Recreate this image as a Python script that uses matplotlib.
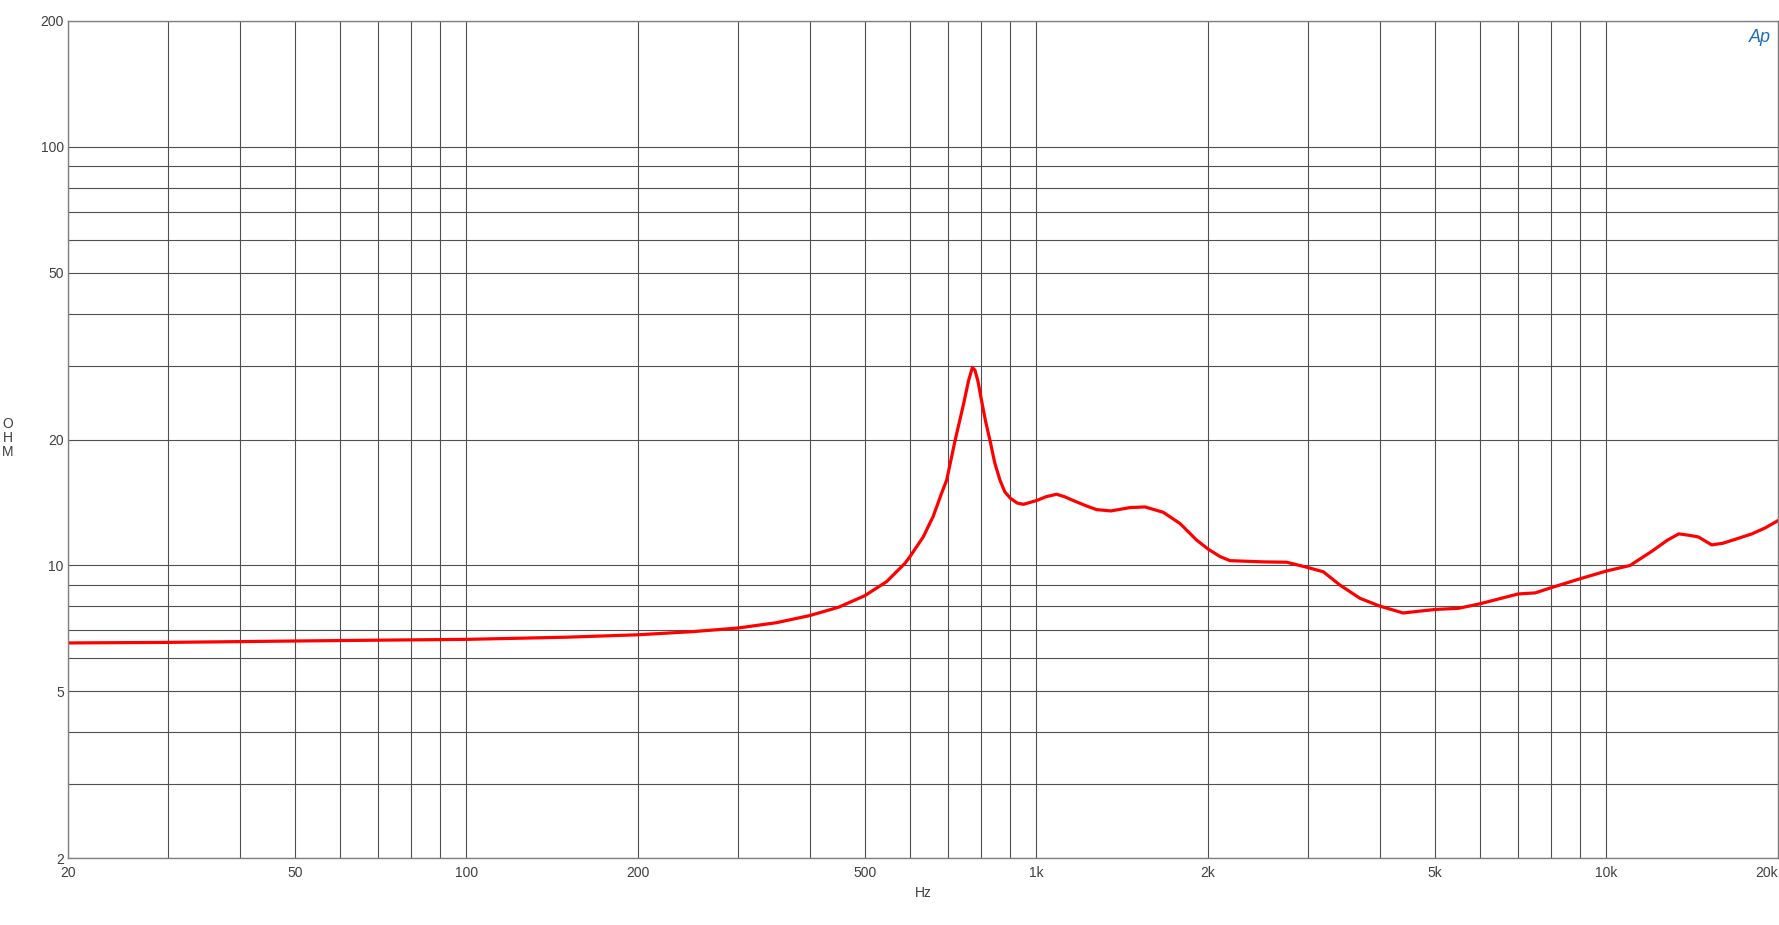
import matplotlib
matplotlib.use('Agg')
from matplotlib import pyplot as plt
from matplotlib.ticker import FixedLocator, FuncFormatter, NullFormatter
import numpy as np

# impedance curve
freq = [20, 30, 50, 70, 100, 150, 200, 250, 300, 350, 400, 450, 500, 546, 588,
        600, 633, 659, 682, 696, 720, 745, 760, 772, 780, 790, 801, 815, 829,
        845, 863, 880, 899, 925, 949, 975, 1001, 1040, 1085, 1120, 1160, 1220,
        1275, 1350, 1459, 1551, 1669, 1786, 1910, 2000, 2100, 2186, 2500, 2749,
        3000, 3186, 3408, 3694, 4000, 4400, 5000, 5500, 6000, 7000, 7500, 8000,
        9000, 10000, 11000, 12000, 12800, 13400, 14000, 14500, 15300, 16000,
        17000, 18000, 19000, 20000]
ohm = [6.53, 6.55, 6.60, 6.63, 6.66, 6.74, 6.83, 6.95, 7.09, 7.30, 7.59, 7.95,
       8.47, 9.15, 10.12, 10.5, 11.7, 13.1, 14.9, 16.0, 19.9, 24.3, 27.6, 29.7,
       29.3, 27.5, 24.8, 22.0, 19.9, 17.6, 16.0, 15.0, 14.5, 14.1, 14.0, 14.15,
       14.3, 14.6, 14.8, 14.6, 14.3, 13.9, 13.6, 13.5, 13.75, 13.8, 13.4, 12.6,
       11.5, 10.95, 10.5, 10.27, 10.2, 10.18, 9.88, 9.66, 8.98, 8.35, 8.0, 7.7,
       7.85, 7.9, 8.1, 8.55, 8.6, 8.85, 9.3, 9.7, 10.0, 10.8, 11.5, 11.9, 11.8,
       11.7, 11.2, 11.3, 11.6, 11.9, 12.3, 12.8]

x_major = [20, 50, 100, 200, 500, 1000, 2000, 5000, 10000, 20000]
x_labels = ['20', '50', '100', '200', '500', '1k', '2k', '5k', '10k', '20k']
y_major = [2, 5, 10, 20, 50, 100, 200]

x_minor = [m * d for d in (10, 100, 1000) for m in range(2, 10)
           if 20 <= m * d <= 20000 and m * d not in x_major]
y_minor = [m * d for d in (1, 10, 100) for m in range(2, 10)
           if 2 <= m * d <= 200 and m * d not in y_major]

plt.rcParams['font.family'] = ['Liberation Sans', 'DejaVu Sans']

fig = plt.figure(figsize=(17.79, 9.25), dpi=100)
ax = fig.add_axes([68 / 1779, 1 - 858 / 925, 1710 / 1779, 837 / 925])

ax.plot(freq, ohm, color='#ff0000', linewidth=2.3, solid_joinstyle='round')

ax.set_xscale('log')
ax.set_yscale('log')
ax.set_xlim(20, 20000)
ax.set_ylim(2, 200)

ax.xaxis.set_major_locator(FixedLocator(x_major))
ax.xaxis.set_minor_locator(FixedLocator(x_minor))
ax.xaxis.set_major_formatter(FuncFormatter(lambda v, p: x_labels[x_major.index(int(round(v)))] if int(round(v)) in x_major else ''))
ax.xaxis.set_minor_formatter(NullFormatter())
ax.yaxis.set_major_locator(FixedLocator(y_major))
ax.yaxis.set_minor_locator(FixedLocator(y_minor))
ax.yaxis.set_major_formatter(FuncFormatter(lambda v, p: '%d' % round(v)))
ax.yaxis.set_minor_formatter(NullFormatter())

ax.grid(True, which='both', color='#505050', linewidth=0.8)
ax.set_axisbelow(True)
ax.tick_params(which='both', length=0, labelsize=10, labelcolor='#404040')
ax.tick_params(axis='x', pad=6)
ax.tick_params(axis='y', pad=3)
# last x label sits flush with the right edge
ax.get_xticklabels()[-1].set_horizontalalignment('right')
for s in ax.spines.values():
    s.set_color('#808080')
    s.set_linewidth(1.0)

fig.text(923 / 1779, 1 - 893 / 925, 'Hz', ha='center', va='center',
         fontsize=10, color='#404040')
fig.text(8 / 1779, 1 - 438 / 925, 'O\nH\nM', ha='center', va='center',
         fontsize=10, color='#404040', linespacing=1.0)
fig.text(1760 / 1779, 1 - 37 / 925, 'Ap', ha='center', va='center',
         fontsize=13, color='#1f6fb5', style='italic')

fig.savefig('out.png', dpi=100)
